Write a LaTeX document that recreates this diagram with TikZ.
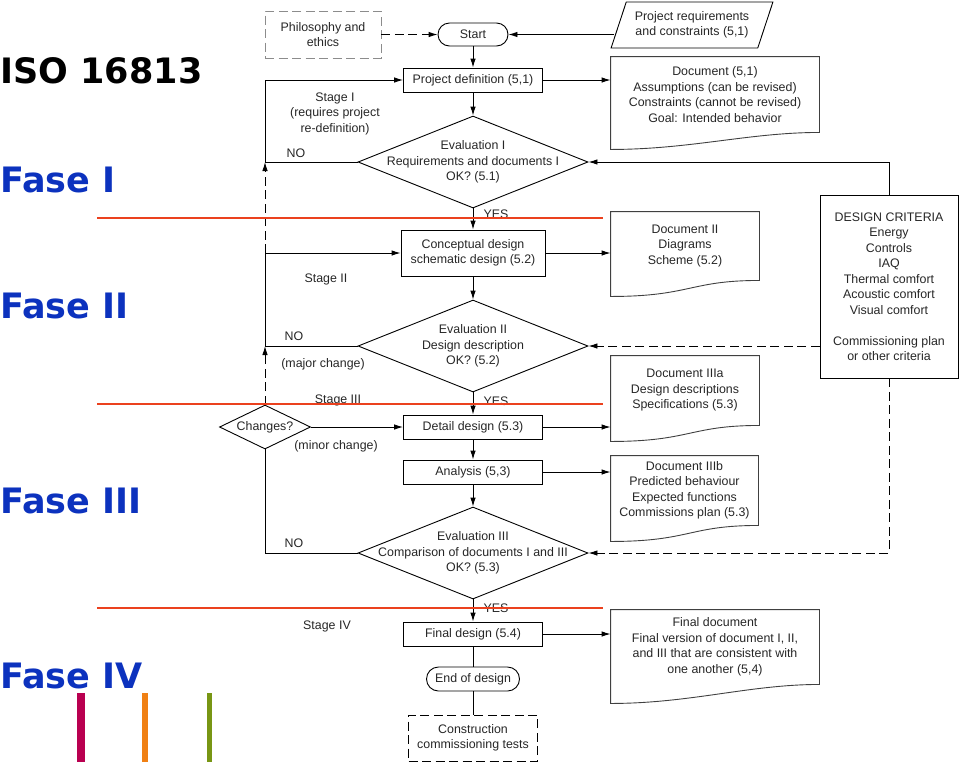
\documentclass[tikz,border=0pt]{standalone}
\usepackage{fontspec}
\setmainfont{Liberation Sans}
\newfontfamily\slidefont{DejaVu Sans}
\usetikzlibrary{arrows.meta,shapes.geometric}
\definecolor{fasblue}{RGB}{12,50,190}
\definecolor{cutred}{RGB}{235,65,30}
\definecolor{barcrimson}{RGB}{185,0,80}
\definecolor{barorange}{RGB}{240,128,20}
\definecolor{barolive}{RGB}{120,150,20}
\newcommand{\docframe}[2]{\draw[docline] (#1.north west) -- (#1.north east) -- (#1.south east)
  .. controls +(-70,0) and +(80,0) .. ([yshift=-#2]#1.south west) -- cycle;}

\begin{document}
\begin{tikzpicture}[x=1pt,y=-1pt,>={Latex[length=9pt,width=5.5pt]},line width=.9pt,
  font=\fontsize{12.4}{15.5}\selectfont,text=black!85,
  box/.style={draw,minimum height=24pt,minimum width=139pt,inner sep=0pt,align=center},
  term/.style={draw,rounded corners=11.5pt,minimum height=23pt,inner sep=0pt},
  cond/.style={draw,diamond,minimum width=230pt,minimum height=92pt,inner sep=0pt},
  doc/.style={inner sep=0pt,align=center},
  docline/.style={draw=black!75,line width=.9pt},
  loose/.style={dash pattern=on 9pt off 4.5pt},
  fase/.style={anchor=base west,inner sep=0pt,font=\slidefont\bfseries\fontsize{35}{35}\selectfont,text=fasblue},
  cut/.style={cutred,line width=1.8pt}]
\useasboundingbox (0,0) rectangle (960,764);
% slide labels
\node[fase,text=black] (iso) at (0,83) {ISO 16813};
\node[fase] (f1) at (0,192) {Fase I};
\node[fase] (f2) at (0,318) {Fase II};
\node[fase] (f3) at (0,513) {Fase III};
\node[fase] (f4) at (0,688) {Fase IV};
\fill[barcrimson] (77,693) rectangle (85,762);
\fill[barorange] (142,693) rectangle (148,762);
\fill[barolive] (207,693) rectangle (212,762);
% main column
\node[draw=black!45,loose,minimum width=116pt,minimum height=47pt,inner sep=0pt,align=center] (philo) at (323,34.5) {Philosophy and\\ethics};
\node[term,minimum width=70pt] (start) at (473,34.5) {Start};
\node[draw,trapezium,trapezium left angle=64,trapezium right angle=116,trapezium stretches=true,
  minimum width=162pt,minimum height=46pt,inner sep=0pt,align=center] (req) at (692,25) {Project requirements\\and constraints (5,1)};
\node[box] (projdef) at (473,80) {Project definition (5,1)};
\node[cond,label={[align=center]center:Evaluation I\\Requirements and documents I\\OK? (5.1)}] (eval1) at (473,162) {};
\node[box,minimum width=144pt,minimum height=46pt] (concept) at (473,253) {Conceptual design\\schematic design (5.2)};
\node[cond,label={[align=center]center:Evaluation II\\Design description\\OK? (5.2)}] (eval2) at (473,346) {};
\node[draw,diamond,minimum width=91pt,minimum height=44pt,inner sep=0pt,label={center:Changes?}] (changes) at (265,427) {};
\node[box] (detail) at (473,427) {Detail design (5.3)};
\node[box] (analysis) at (473,472) {Analysis (5,3)};
\node[cond,label={[align=center]center:Evaluation III\\Comparison of documents I and III\\OK? (5.3)}] (eval3) at (473,553) {};
\node[box] (final) at (473,634) {Final design (5.4)};
\node[term,minimum width=93pt,minimum height=24pt,rounded corners=12pt] (enddesign) at (473,679) {End of design};
\node[draw,loose,minimum width=129pt,minimum height=46pt,inner sep=0pt,align=center] (constr) at (473,738) {Construction\\commissioning tests};
% documents
\node[doc,minimum width=208pt,minimum height=75pt] (doc1) at (715,94.5) {Document (5,1)\\Assumptions (can be revised)\\Constraints (cannot be revised)\\Goal: Intended behavior};
\node[doc,minimum width=148pt,minimum height=68pt] (doc2) at (685,246) {Document II\\Diagrams\\Scheme (5.2)};
\node[doc,minimum width=148pt,minimum height=69pt] (doc3a) at (685,390.5) {Document IIIa\\Design descriptions\\Specifications (5.3)};
\node[doc,minimum width=147pt,minimum height=69pt] (doc3b) at (684.5,490.5) {Document IIIb\\Predicted behaviour\\Expected functions\\Commissions plan (5.3)};
\node[doc,minimum width=208pt,minimum height=74pt] (fdoc) at (715,647) {Final document\\Final version of document I, II,\\and III that are consistent with\\one another (5,4)};
\docframe{doc1}{17pt}
\docframe{doc2}{16pt}
\docframe{doc3a}{16pt}
\docframe{doc3b}{16pt}
\docframe{fdoc}{19pt}
\node[draw,minimum width=138pt,minimum height=183pt,inner sep=0pt,align=center] (crit) at (889,286.5)
  {DESIGN CRITERIA\\Energy\\Controls\\IAQ\\Thermal comfort\\Acoustic comfort\\Visual comfort\\[15.5pt]Commissioning plan\\or other criteria};
% side texts
\node[align=center] (stage1) at (335,113.5) {Stage I\\(requires project\\re-definition)};
\node (no1) at (296,153) {NO};
\node (stage2) at (326,279) {Stage II};
\node (no2) at (294,336) {NO};
\node (major) at (323,364) {(major change)};
\node (stage3) at (338,400) {Stage III};
\node (minor) at (336,446) {(minor change)};
\node (no3) at (294,543) {NO};
\node (stage4) at (327,626) {Stage IV};
\node (yes1) at (496,214) {YES};
\node (yes2) at (496,401) {YES};
\node (yes3) at (496,608) {YES};
% junctions on the return line
\coordinate (j00) at (changes.north |- projdef.west);
\coordinate (j0) at (changes.north |- eval1.west);
\coordinate (j1) at (changes.north |- concept.west);
\coordinate (j2) at (changes.north |- eval2.west);
% connectors
\draw[->,loose] (philo) -- (start);
\draw[<-] (start.east) -- ([xshift=-4pt]req.west |- start.east);
\draw[->] (start) -- (projdef);
\draw[->] (projdef) -- (eval1);
\draw[->] (eval1) -- (concept);
\draw[->] (concept) -- (eval2);
\draw[->] (eval2) -- (detail);
\draw[->] (detail) -- (analysis);
\draw[->] (analysis) -- (eval3);
\draw[->] (eval3) -- (final);
\draw (final) -- (enddesign);
\draw (enddesign) -- (constr);
\draw[->] (projdef.east) -- (projdef.east -| doc1.west);
\draw[->] (concept.east) -- (concept.east -| doc2.west);
\draw[->] (detail.east) -- (detail.east -| doc3a.west);
\draw[->] (analysis.east) -- (analysis.east -| doc3b.west);
\draw[->] (final.east) -- (final.east -| fdoc.west);
\draw[->] (crit.north) |- (eval1.east);
\draw[->,loose] (crit.west |- eval2.east) -- (eval2.east);
\draw[->,loose] (crit.south) |- (eval3.east);
\draw[->] (eval1.west) -- (j0) -- (j00) -- (projdef.west);
\draw[->] (eval2.west) -- (j2) -- (j1) -- (concept.west);
\draw[->,loose] (changes.north) -- (j2);
\draw[->,loose] (j1) -- (j0);
\draw[->] (changes.east) -- (detail.west);
\draw (eval3.west) -| (changes.south);
% phase cuts
\foreach \y in {218,404,608}
  \draw[cut] (97,\y) -- (603,\y);
\end{tikzpicture}
\end{document}
